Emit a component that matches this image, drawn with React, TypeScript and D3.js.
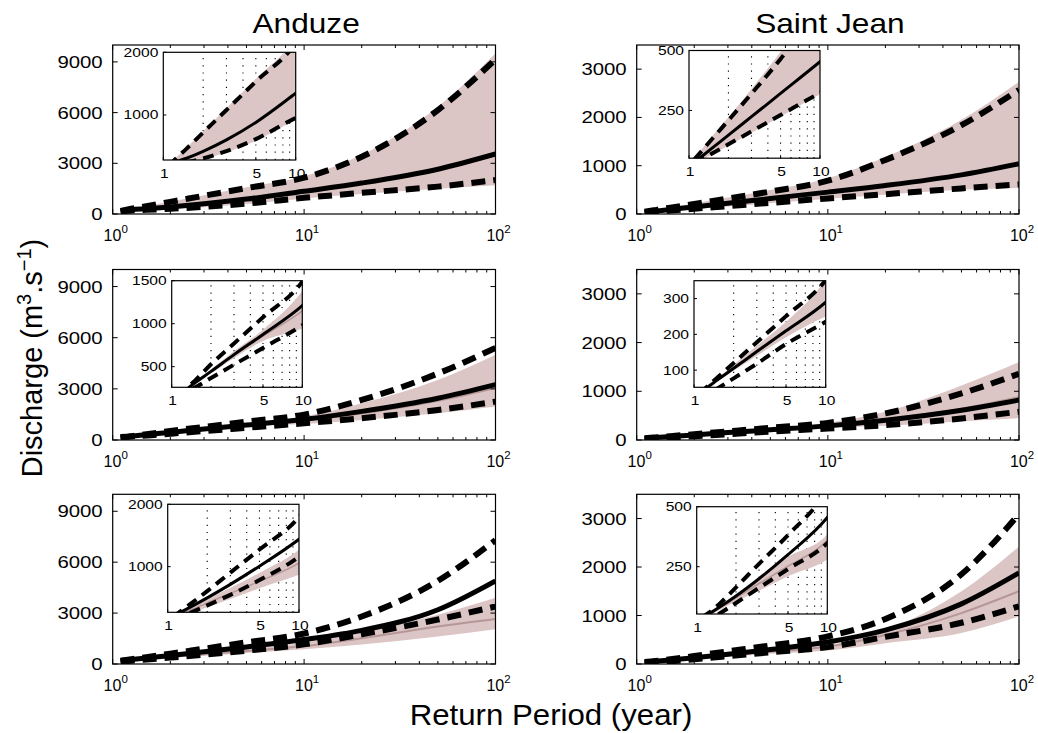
import React from 'react';
import * as d3 from 'd3';

// Return periods (years) at which the curves are sampled
const RETURN_PERIODS = [1.1, 1.25, 1.5, 2, 3, 5, 10, 20, 50, 100];

// Column titles
const STATIONS = ['Anduze', 'Saint Jean'];

// Main y tick labels
const ANDUZE_TICKS = [0, 3000, 6000, 9000];
const SAINTJEAN_TICKS = [0, 1000, 2000, 3000];

// Inset x tick labels
const INSET_X_TICKS = [1, 5, 10];

// ---- Anduze, row 1 ----
const A1_SOLID = [175, 250, 310, 420, 603, 882, 1346, 1830, 2650, 3550];
const A1_UPPER = [188, 307, 464, 720, 1080, 1534, 2150, 3390, 6150, 9150];
const A1_LOWER = [150, 213, 245, 308, 424, 616, 955, 1250, 1620, 2010];
const A1_BAND_HI = [195, 320, 480, 740, 1110, 1580, 2230, 3500, 6350, 9500];
const A1_BAND_LO = [145, 205, 235, 295, 405, 590, 920, 1180, 1500, 1700];

// ---- Saint Jean, row 1 ----
const S1_SOLID = [33, 58, 93, 147, 224, 321, 453, 590, 810, 1040];
const S1_UPPER = [46, 81, 131, 209, 320, 465, 690, 1120, 1840, 2570];
const S1_LOWER = [30, 47, 71, 109, 163, 231, 323, 410, 530, 615];
const S1_BAND_HI = [50, 88, 142, 222, 340, 495, 740, 1180, 1950, 2740];
const S1_BAND_LO = [27, 43, 67, 104, 157, 225, 318, 400, 500, 540];

// ---- Anduze, row 2 ----
const A2_SOLID = [160, 220, 310, 445, 640, 875, 1211, 1680, 2450, 3250];
const A2_UPPER = [170, 227, 335, 528, 770, 1075, 1490, 2350, 3900, 5400];
const A2_LOWER = [140, 210, 258, 368, 524, 717, 980, 1280, 1760, 2250];
const A2_BAND_HI = [165, 225, 320, 470, 680, 930, 1380, 2150, 3520, 5000];
const A2_BAND_LO = [150, 215, 300, 420, 600, 800, 945, 1180, 1570, 1960];
const A2_MEDIAN = [158, 218, 308, 440, 630, 855, 1150, 1560, 2300, 3050];

// ---- Saint Jean, row 2 ----
const S2_SOLID = [38, 51, 72, 105, 152, 210, 290, 405, 610, 820];
const S2_UPPER = [35, 53, 79, 120, 178, 251, 352, 546, 955, 1360];
const S2_LOWER = [20, 30, 48, 77, 118, 173, 235, 305, 443, 580];
const S2_BAND_HI = [37, 52, 76, 115, 168, 235, 355, 580, 1120, 1600];
const S2_BAND_LO = [34, 48, 68, 98, 140, 192, 250, 290, 385, 450];
const S2_MEDIAN = [38, 51, 72, 104, 150, 208, 292, 420, 640, 880];

// ---- Anduze, row 3 ----
const A3_SOLID = [208, 268, 356, 500, 716, 1008, 1439, 1980, 3200, 4900];
const A3_UPPER = [195, 283, 406, 608, 905, 1275, 1795, 2800, 4900, 7300];
const A3_LOWER = [150, 190, 262, 378, 548, 785, 1160, 1750, 2620, 3390];
const A3_BAND_HI = [190, 262, 350, 480, 660, 900, 1270, 1900, 2900, 3900];
const A3_BAND_LO = [140, 185, 252, 350, 480, 655, 870, 1150, 1620, 2050];
const A3_MEDIAN = [170, 230, 305, 420, 570, 765, 1055, 1520, 2210, 2650];

// ---- Saint Jean, row 3 ----
const S3_SOLID = [37, 55, 82, 128, 200, 300, 455, 700, 1240, 1880];
const S3_UPPER = [40, 60, 96, 164, 262, 382, 570, 930, 1850, 3090];
const S3_LOWER = [20, 27, 55, 99, 162, 240, 348, 560, 850, 1190];
const S3_BAND_HI = [38, 57, 84, 130, 200, 290, 385, 700, 1500, 2420];
const S3_BAND_LO = [25, 45, 70, 105, 150, 210, 280, 430, 640, 980];
const S3_MEDIAN = [30, 50, 78, 120, 180, 252, 360, 600, 1050, 1500];

const FONT = '"Liberation Sans", Arial, Helvetica, sans-serif';
const PINK = '#dcc5c5';
const MEDIAN_COLOR = '#b69797';

const COL_X = [[112.7, 495.5], [636.7, 1019]];
const ROW_Y = [[45, 214], [269.5, 440], [494.3, 664]];

type Series = {
  solid: number[]; upper: number[]; lower: number[];
  bandHi: number[]; bandLo: number[]; median?: number[];
};
type InsetCfg = { dx: number; dy: number; w: number; h: number; yDomain: [number, number]; yTicks: number[] };
type PanelCfg = { col: number; row: number; yMax: number; yTicks: number[]; s: Series; inset: InsetCfg };

const PANELS: PanelCfg[] = [
  { col: 0, row: 0, yMax: 10000, yTicks: ANDUZE_TICKS,
    s: { solid: A1_SOLID, upper: A1_UPPER, lower: A1_LOWER, bandHi: A1_BAND_HI, bandLo: A1_BAND_LO },
    inset: { dx: 50.6, dy: 7.3, w: 132.4, h: 107.7, yDomain: [282, 2000], yTicks: [1000, 2000] } },
  { col: 1, row: 0, yMax: 3500, yTicks: SAINTJEAN_TICKS,
    s: { solid: S1_SOLID, upper: S1_UPPER, lower: S1_LOWER, bandHi: S1_BAND_HI, bandLo: S1_BAND_LO },
    inset: { dx: 52.3, dy: 5.5, w: 131, h: 107.7, yDomain: [51, 500], yTicks: [250, 500] } },
  { col: 0, row: 1, yMax: 10000, yTicks: ANDUZE_TICKS,
    s: { solid: A2_SOLID, upper: A2_UPPER, lower: A2_LOWER, bandHi: A2_BAND_HI, bandLo: A2_BAND_LO, median: A2_MEDIAN },
    inset: { dx: 59, dy: 11.2, w: 130.6, h: 106.6, yDomain: [260, 1500], yTicks: [500, 1000, 1500] } },
  { col: 1, row: 1, yMax: 3500, yTicks: SAINTJEAN_TICKS,
    s: { solid: S2_SOLID, upper: S2_UPPER, lower: S2_LOWER, bandHi: S2_BAND_HI, bandLo: S2_BAND_LO, median: S2_MEDIAN },
    inset: { dx: 57.3, dy: 11.2, w: 131.7, h: 106.6, yDomain: [52, 350], yTicks: [100, 200, 300] } },
  { col: 0, row: 2, yMax: 10000, yTicks: ANDUZE_TICKS,
    s: { solid: A3_SOLID, upper: A3_UPPER, lower: A3_LOWER, bandHi: A3_BAND_HI, bandLo: A3_BAND_LO, median: A3_MEDIAN },
    inset: { dx: 55, dy: 10, w: 131.3, h: 108, yDomain: [268, 2000], yTicks: [1000, 2000] } },
  { col: 1, row: 2, yMax: 3500, yTicks: SAINTJEAN_TICKS,
    s: { solid: S3_SOLID, upper: S3_UPPER, lower: S3_LOWER, bandHi: S3_BAND_HI, bandLo: S3_BAND_LO, median: S3_MEDIAN },
    inset: { dx: 60, dy: 12.4, w: 130.6, h: 107.3, yDomain: [53, 500], yTicks: [250, 500] } },
];

function SText(props: { x: number; y: number; sx?: number; size: number; anchor?: string; children: React.ReactNode }) {
  const { x, y, sx = 1, size, anchor = 'start', children } = props;
  return (
    <text transform={`translate(${x},${y}) scale(${sx},1)`} textAnchor={anchor as any}
      fontSize={size} fontFamily={FONT} fill="#000">{children}</text>
  );
}

function Curves(props: { x: any; y: any; s: Series; dashW: number; dash: string; solidW: number; medW: number }) {
  const { x, y, s, dashW, dash, solidW, medW } = props;
  const line = d3.line<number>().x((_, i) => x(RETURN_PERIODS[i])).y(v => y(v)).curve(d3.curveMonotoneX);
  const area = d3.area<number>().x((_, i) => x(RETURN_PERIODS[i]))
    .y0((_, i) => y(s.bandLo[i])).y1(v => y(v)).curve(d3.curveMonotoneX);
  return (
    <g>
      <path d={area(s.bandHi) || ''} fill={PINK} stroke="none" />
      {s.median && <path d={line(s.median) || ''} fill="none" stroke={MEDIAN_COLOR} strokeWidth={medW} />}
      <path d={line(s.lower) || ''} fill="none" stroke="#000" strokeWidth={dashW} strokeDasharray={dash} />
      <path d={line(s.upper) || ''} fill="none" stroke="#000" strokeWidth={dashW} strokeDasharray={dash} />
      <path d={line(s.solid) || ''} fill="none" stroke="#000" strokeWidth={solidW} />
    </g>
  );
}

function Panel({ cfg, idx }: { cfg: PanelCfg; idx: number }) {
  const [left, right] = COL_X[cfg.col];
  const [top, bottom] = ROW_Y[cfg.row];
  const x = d3.scaleLog().domain([1, 100]).range([left, right]);
  const y = d3.scaleLinear().domain([0, cfg.yMax]).range([bottom, top]);
  const xt = x.ticks();
  const isMajor = (v: number) => Math.abs(Math.log10(v) - Math.round(Math.log10(v))) < 1e-9;

  const ins = cfg.inset;
  const il = left + ins.dx, it = top + ins.dy, ir = il + ins.w, ib = it + ins.h;
  const xi = d3.scaleLog().domain([1, 10]).range([il, ir]);
  const yi = d3.scaleLinear().domain(ins.yDomain).range([ib, it]);
  const gridVals = xi.ticks().filter(v => v > 1 && v < 10);

  const clipMain = `clip-main-${idx}`;
  const clipIns = `clip-ins-${idx}`;

  return (
    <g>
      <defs>
        <clipPath id={clipMain}><rect x={left} y={top} width={right - left} height={bottom - top} /></clipPath>
        <clipPath id={clipIns}><rect x={il} y={it} width={ir - il} height={ib - it} /></clipPath>
      </defs>
      <rect x={left} y={top} width={right - left} height={bottom - top} fill="#fff" />
      <g clipPath={`url(#${clipMain})`}>
        <Curves x={x} y={y} s={cfg.s} dashW={6} dash="14,8" solidW={5} medW={2} />
      </g>
      {xt.map((v, i) => {
        const len = isMajor(v) ? 5 : 3;
        return (
          <g key={'xt' + i}>
            <line x1={x(v)} x2={x(v)} y1={bottom} y2={bottom - len} stroke="#000" strokeWidth={1} />
            <line x1={x(v)} x2={x(v)} y1={top} y2={top + len} stroke="#000" strokeWidth={1} />
          </g>
        );
      })}
      {cfg.yTicks.map((v, i) => (
        <g key={'yt' + i}>
          <line x1={left} x2={left + 5} y1={y(v)} y2={y(v)} stroke="#000" strokeWidth={1} />
          <line x1={right} x2={right - 5} y1={y(v)} y2={y(v)} stroke="#000" strokeWidth={1} />
          <SText x={left - 10} y={y(v) + 6} sx={1.25} size={16.3} anchor="end">{String(v)}</SText>
        </g>
      ))}
      {[1, 10, 100].map((v, i) => (
        <text key={'xl' + i} x={x(v) + 3} y={bottom + 27} textAnchor="middle" fontSize={16} fontFamily={FONT}>
          10<tspan dy={-8} fontSize={11.5}>{String(i)}</tspan>
        </text>
      ))}
      <rect x={left} y={top} width={right - left} height={bottom - top} fill="none" stroke="#000" strokeWidth={1.2} />

      {/* inset */}
      <rect x={il} y={it} width={ir - il} height={ib - it} fill="#fff" />
      {gridVals.map((v, i) => (
        <line key={'g' + i} x1={xi(v)} x2={xi(v)} y1={ib} y2={it} stroke="#000" strokeWidth={1.1} strokeDasharray="1.2,6" />
      ))}
      <g clipPath={`url(#${clipIns})`}>
        <Curves x={xi} y={yi} s={cfg.s} dashW={4} dash="11,7" solidW={3} medW={1.5} />
      </g>
      {ins.yTicks.map((v, i) => (
        <g key={'iy' + i}>
          <line x1={il} x2={il + 3} y1={yi(v)} y2={yi(v)} stroke="#000" strokeWidth={1} />
          <SText x={il - 5} y={yi(v) + 4.5} sx={1.3} size={12} anchor="end">{String(v)}</SText>
        </g>
      ))}
      {INSET_X_TICKS.map((v, i) => (
        <g key={'ix' + i}>
          <line x1={xi(v)} x2={xi(v)} y1={ib} y2={ib - 3} stroke="#000" strokeWidth={1} />
          <SText x={xi(v) + 1} y={ib + 18} sx={1.3} size={12} anchor="middle">{String(v)}</SText>
        </g>
      ))}
      <rect x={il} y={it} width={ir - il} height={ib - it} fill="none" stroke="#000" strokeWidth={1.2} />
    </g>
  );
}

export default function App() {
  return (
    <svg width={1038} height={733} viewBox="0 0 1038 733"
      style={{ position: 'absolute', left: 0, top: 0, display: 'block', background: '#fff' }}>
      <rect x={0} y={0} width={1038} height={733} fill="#fff" />
      {STATIONS.map((name, i) => (
        <SText key={name} x={(COL_X[i][0] + COL_X[i][1]) / 2 + 2} y={33} sx={1.13} size={28} anchor="middle">{name}</SText>
      ))}
      {PANELS.map((p, i) => <Panel key={i} cfg={p} idx={i} />)}
      <SText x={551} y={725} sx={1.04} size={30} anchor="middle">Return Period (year)</SText>
      <text transform="translate(42,358) rotate(-90)" textAnchor="middle" fontSize={29} fontFamily={FONT}>
        Discharge (m<tspan dy={-11} fontSize={20}>3</tspan><tspan dy={11}>.s</tspan>
        <tspan dy={-11} fontSize={20}>−1</tspan><tspan dy={11}>)</tspan>
      </text>
    </svg>
  );
}
